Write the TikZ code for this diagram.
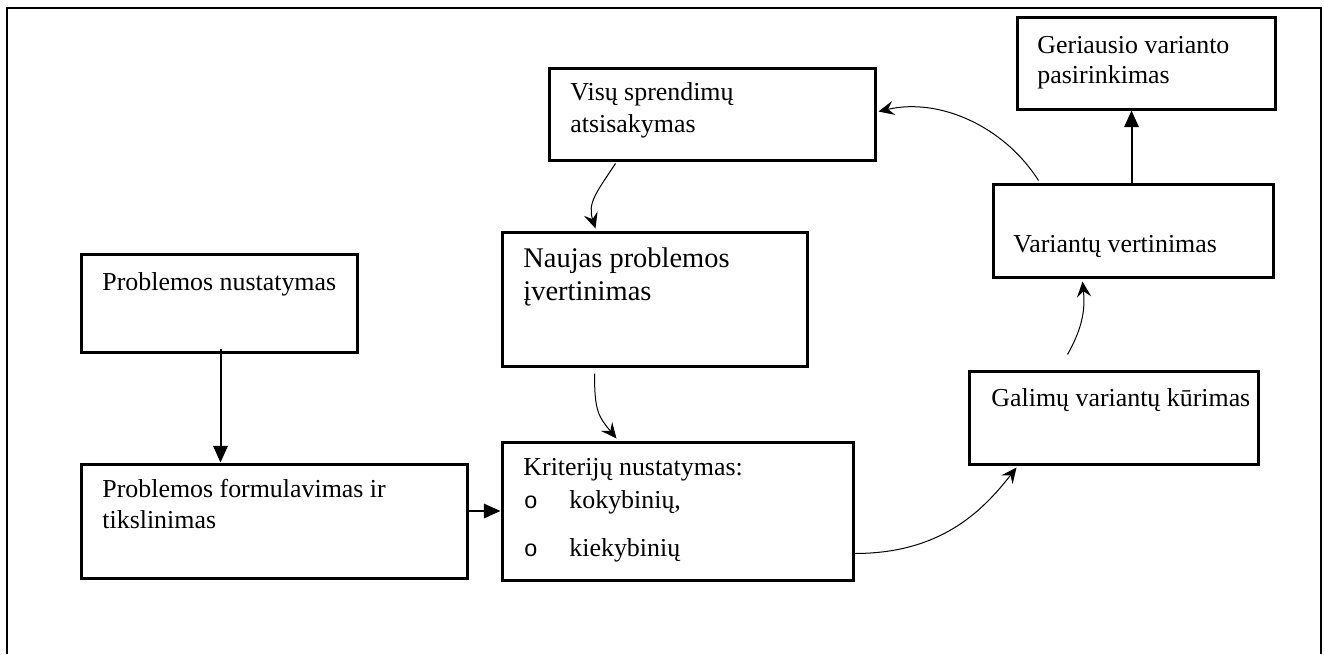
\documentclass[tikz,border=0pt]{standalone}
\usepackage{fontspec}
\setmainfont{Liberation Serif}
\newfontfamily\bulletfont{Liberation Sans}
\usetikzlibrary{arrows.meta,calc,fit}

\begin{document}
\begin{tikzpicture}[x=0.45pt,y=-0.45pt,
  box/.style={draw,line width=1.35pt,inner sep=0pt,rectangle},
  txt/.style={inner sep=0pt,anchor=base west,font=\fontsize{11.65}{14}\selectfont},
  bigtxt/.style={txt,font=\fontsize{12.8}{15}\selectfont},
  bul/.style={inner sep=0pt,anchor=base west,font=\bulletfont\fontsize{10.5}{14}\selectfont},
  frame/.style={line width=0.9pt},
  flow/.style={line width=0.9pt,-{Triangle[length=7.5pt,width=6.5pt]}},
  loopback/.style={line width=0.45pt,-{Stealth[length=7pt,width=6.4pt,inset=2.6pt]}},
]
\useasboundingbox (0,0) rectangle (1325,654);

% open outer frame
\draw[frame] (7,654) -- (7,8) -- (1321,8) -- (1321,654);

% boxes
\node[box,fit={(81,254)(357,352)}]   (pn)  {};
\node[box,fit={(81,464)(467,578)}]   (pf)  {};
\node[box,fit={(502,442)(853,580)}]  (kr)  {};
\node[box,fit={(502,232)(807,366)}]  (nv)  {};
\node[box,fit={(549,68)(875,160)}]   (vs)  {};
\node[box,fit={(969,371)(1258,464)}] (gv)  {};
\node[box,fit={(993,184)(1273,277)}] (vv)  {};
\node[box,fit={(1017,17)(1275,109)}] (gr)  {};

% labels
\node[txt] (pnA) at (102,290) {Problemos nustatymas};
\node[txt] (pfA) at (102,497) {Problemos formulavimas ir};
\node[txt] (pfB) at (102,528) {tikslinimas};
\node[txt] (krA) at (523,475) {Kriterijų nustatymas:};
\node[bul] (krO1) at (524,508) {o};
\node[txt] (krB) at (569,508) {kokybinių,};
\node[bul] (krO2) at (524,556) {o};
\node[txt] (krC) at (569,556) {kiekybinių};
\node[bigtxt] (nvA) at (523,267) {Naujas problemos};
\node[bigtxt] (nvB) at (523,300) {įvertinimas};
\node[txt] (vsA) at (570,100) {Visų sprendimų};
\node[txt] (vsB) at (570,132) {atsisakymas};
\node[txt] (gvA) at (991,406) {Galimų variantų kūrimas};
\node[txt] (vvA) at (1013,252) {Variantų vertinimas};
\node[txt] (grA) at (1037,53) {Geriausio varianto};
\node[txt] (grB) at (1037,83) {pasirinkimas};

% straight flow arrows
\draw[flow] ($(pn.south west)+(141,-5)$) -- ($(pf.north west)+(141,0)$);
\draw[flow] (pf.east |- kr.west) -- (kr.west);
\draw[flow] ($(vv.north west)+(140,0)$) -- ($(gr.south west)+(116,0)$);

% curved loop arrows
\draw[loopback] ($(vs.south west)+(68,2)$) .. controls +(-20,30) and +(-8,-25) .. ($(nv.north west)+(95,-2)$);
\draw[loopback] ($(nv.south west)+(94,6)$) .. controls +(0,38) and +(-18,-22) .. ($(kr.north west)+(116,-2)$);
\draw[loopback] ($(kr.south east)+(0,-28)$) .. controls +(85,0) and +(-35,45) .. ($(gv.south west)+(49,2)$);
\draw[loopback] ($(gv.north west)+(100,-15)$) .. controls +(14,-25) and +(3,30) .. ($(vv.south west)+(91,3)$);
\draw[loopback] ($(vv.north west)+(47,-2)$) .. controls +(-35,-55) and +(60,-14) .. ($(vs.north east)+(2,45)$);
\end{tikzpicture}
\end{document}
